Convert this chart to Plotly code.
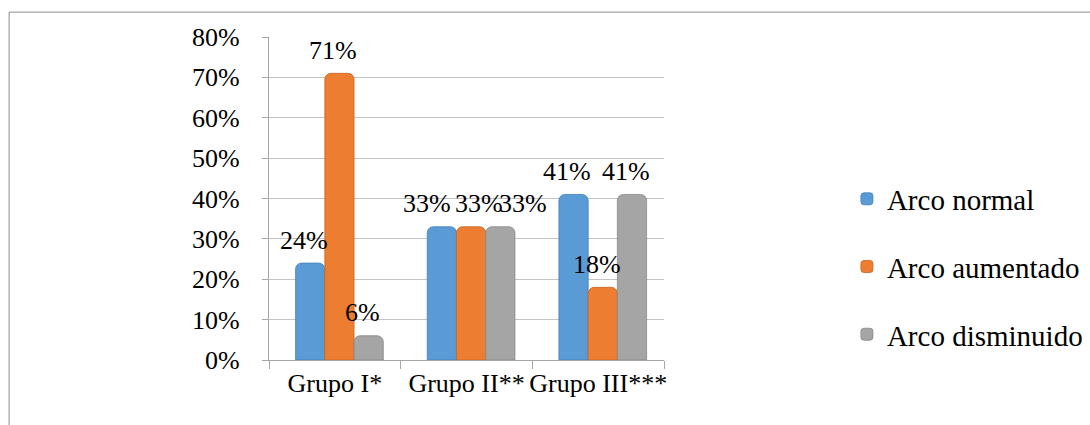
"""
Cylinder-style grouped bar chart: arch type by group.
"""
import plotly.graph_objects as go

categories = ["Grupo I*", "Grupo II**", "Grupo III***"]
series_names = ["Arco normal", "Arco aumentado", "Arco disminuido"]
arco_normal = [0.24, 0.33, 0.41]
arco_aumentado = [0.71, 0.33, 0.18]
arco_disminuido = [0.06, 0.33, 0.41]
y_ticks = [0, 0.1, 0.2, 0.3, 0.4, 0.5, 0.6, 0.7, 0.8]

series_values = [arco_normal, arco_aumentado, arco_disminuido]
colors = ["#5B9BD5", "#ED7D31", "#A5A5A5"]
edge_colors = ["#3F7FBF", "#C8651F", "#878787"]

FONT = "Liberation Serif"
BAR_W = 0.222      # bar width in category units
SHIFT = 0.035      # small right shift of the group (3D depth look)
CAT_PX = 132       # pixel width of one category
# label nudges (px) where the original labels were pulled apart
label_nudge = {(1, 0): -9, (1, 1): 14, (1, 2): 29}

fig = go.Figure()
for i, (name, vals) in enumerate(zip(series_names, series_values)):
    fig.add_trace(go.Bar(
        x=categories, y=vals,
        name=name,
        width=BAR_W,
        offset=SHIFT + (i - 1.5) * BAR_W,
        marker=dict(color=colors[i], line=dict(color=edge_colors[i], width=0.8),
                    cornerradius=6),
        legendgroup=name,
        hoverinfo="skip",
    ))

# data labels, floated above each cylinder
annotations = []
for i, vals in enumerate(series_values):
    for j, v in enumerate(vals):
        xshift = (SHIFT + (i - 1) * BAR_W) * CAT_PX - 6 + label_nudge.get((j, i), 0)
        annotations.append(dict(
            x=categories[j], y=v, xref="x", yref="y",
            text=f"{round(v * 100)}%", showarrow=False,
            xshift=xshift, yshift=23, yanchor="middle",
            font=dict(family=FONT, size=26, color="black"),
        ))

fig.update_layout(
    width=1090, height=425,
    margin=dict(l=269, r=426, t=37, b=65, autoexpand=False),
    paper_bgcolor="white", plot_bgcolor="white",
    font=dict(family=FONT, color="black"),
    barmode="group",
    showlegend=True,
    legend=dict(
        xref="container", yref="paper",
        x=0.777, y=0.288, xanchor="left", yanchor="middle",
        font=dict(family=FONT, size=29, color="black"),
        tracegroupgap=27, bgcolor="rgba(0,0,0,0)",
    ),
    annotations=annotations,
    shapes=[dict(
        type="rect", xref="paper", yref="paper",
        x0=-0.658, x1=3.0, y0=-1.0, y1=1.077,
        line=dict(color="#8C8C8C", width=1), fillcolor="rgba(0,0,0,0)",
        layer="below",
    )],
)
fig.update_yaxes(
    range=[0, 0.8], tickvals=y_ticks, tickformat=".0%",
    showgrid=True, gridcolor="#C4C4C4", gridwidth=1.2,
    showline=True, linecolor="#A6A6A6", linewidth=1.2,
    ticks="outside", ticklen=6, tickcolor="#A6A6A6",
    ticklabelstandoff=17, zeroline=False, automargin=False,
    tickfont=dict(family=FONT, size=26, color="black"),
)
fig.update_xaxes(
    showline=True, linecolor="#A6A6A6", linewidth=1.2,
    ticks="outside", ticklen=8, tickcolor="#A6A6A6", tickson="boundaries",
    showgrid=False, tickangle=0, automargin=False,
    tickfont=dict(family=FONT, size=26, color="black"),
)

# drop the default page margin so the figure sits at the window origin
fig.write_html(
    "out.html",
    config={"displayModeBar": False},
    post_script="document.body.style.margin='0';"
                "document.documentElement.style.overflow='hidden';",
)
